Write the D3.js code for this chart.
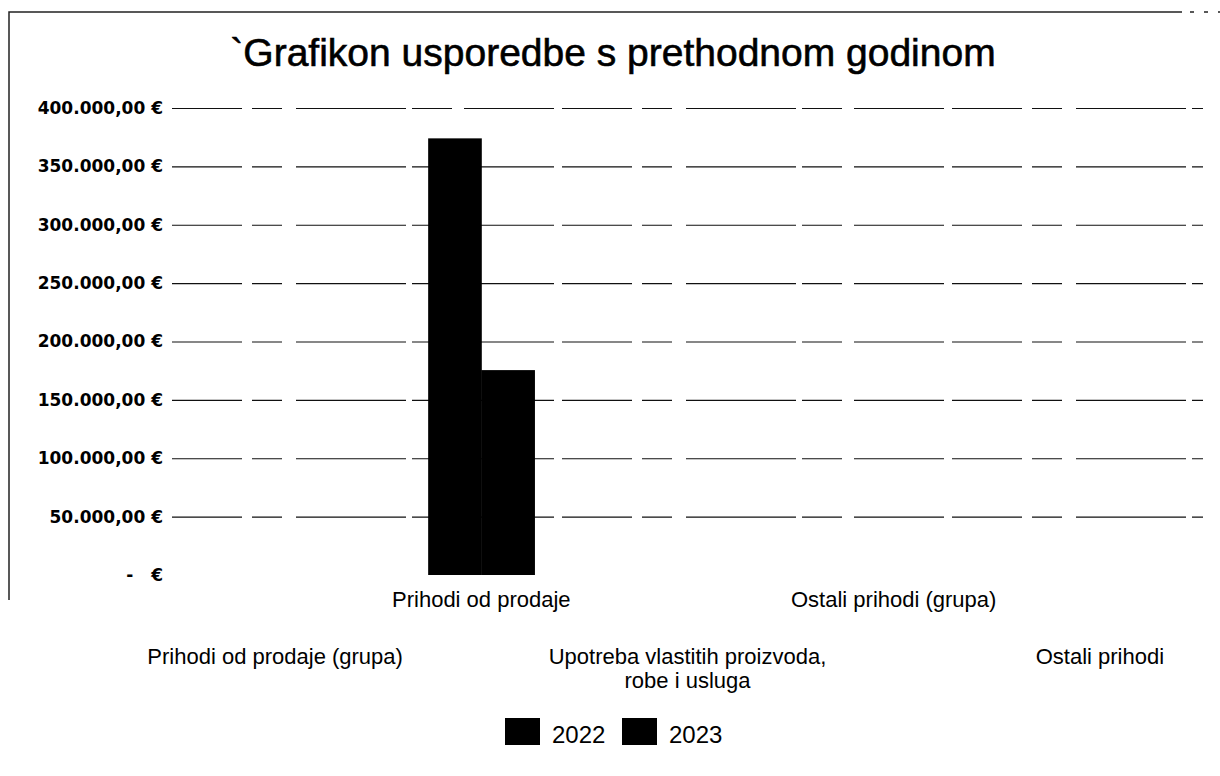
<!DOCTYPE html>
<html>
<head>
<meta charset="utf-8">
<script src="https://cdn.jsdelivr.net/npm/d3@7"></script>
<style>
  body { margin: 0; background: #fff; }
  svg { display: block; }
</style>
</head>
<body>
<svg id="chart"></svg>
<script>
// data
const categories = [
  'Prihodi od prodaje (grupa)',
  'Prihodi od prodaje',
  'Upotreba vlastitih proizvoda, robe i usluga',
  'Ostali prihodi (grupa)',
  'Ostali prihodi'
];
const years = ['2022', '2023'];
const values2022 = [null, 374000, null, null, null];
const values2023 = [null, 175500, null, null, null];
const yTicks = [0, 50000, 100000, 150000, 200000, 250000, 300000, 350000, 400000];
const title = '`Grafikon usporedbe s prethodnom godinom';

const W = 1220, H = 776;
const margin = { top: 108, right: 17, bottom: 201, left: 172 };
const width = W - margin.left - margin.right;
const height = H - margin.top - margin.bottom;

const svgRoot = d3.select('#chart')
  .attr('width', W)
  .attr('height', H);

// outer frame (only left and top edges survive in the scan)
svgRoot.append('path')
  .attr('d', 'M9,600 L9,12 L1182,12')
  .attr('fill', 'none')
  .attr('stroke', '#222')
  .attr('stroke-width', 1.5);
svgRoot.append('path')
  .attr('d', 'M1190,12 L1220,12')
  .attr('stroke', '#222')
  .attr('stroke-width', 1.5)
  .attr('stroke-dasharray', '4,10');

svgRoot.append('text')
  .attr('x', 613)
  .attr('y', 66)
  .attr('text-anchor', 'middle')
  .attr('stroke', '#000')
  .attr('stroke-width', 0.6)
  .style('font-family', '"Liberation Sans", Arial, sans-serif')
  .style('font-size', '39px')
  .text(title);

const svg = svgRoot.append('g')
  .attr('transform', `translate(${margin.left},${margin.top})`);

const locale = d3.formatLocale({ decimal: ',', thousands: '.', grouping: [3], currency: ['', ' €'] });
const euro = locale.format('$,.2f');

const x0 = d3.scaleBand()
  .domain(categories)
  .range([0, width])
  .padding(0);

const x1 = d3.scaleBand()
  .domain(years)
  .range([0, x0.bandwidth()])
  .paddingInner(0)
  .paddingOuter(0.94);

const y = d3.scaleLinear()
  .domain([0, 400000])
  .range([height, 0]);

// y axis + gridlines
const yAxis = svg.append('g')
  .call(d3.axisLeft(y)
    .tickValues(yTicks)
    .tickSize(-width)
    .tickPadding(9)
    .tickFormat(d => d === 0 ? '-\u00a0\u00a0\u00a0€' : euro(d)));
yAxis.select('.domain').remove();
yAxis.selectAll('.tick line')
  .attr('stroke', '#111')
  .attr('stroke-width', 1.2)
  .attr('stroke-dasharray', (d, i) => d === 0 ? '0,2000' : '70,10,30,14,110,6,40,12,90,8');
yAxis.selectAll('.tick text')
  .attr('fill', '#000')
  .style('font-family', '"DejaVu Sans", Verdana, sans-serif')
  .style('font-weight', 'bold')
  .style('font-size', '17px');

// x axis, labels staggered on two rows
const xAxis = svg.append('g')
  .attr('transform', `translate(0,${height})`)
  .call(d3.axisBottom(x0).tickSize(0));
xAxis.select('.domain').remove();
xAxis.selectAll('.tick text')
  .attr('fill', '#000')
  .style('font-family', '"Liberation Sans", Arial, sans-serif')
  .style('font-size', '22px')
  .each(function (d, i) {
    const t = d3.select(this);
    const lines = d.indexOf(', ') > 0 ? [d.split(', ')[0] + ',', d.split(', ')[1]] : [d];
    t.text(null).attr('y', i % 2 === 1 ? 32 : 89).attr('dy', null);
    lines.forEach((line, k) => {
      t.append('tspan')
        .attr('x', 0)
        .attr('dy', k === 0 ? 0 : 24)
        .text(line);
    });
  });

// bars
const series = [values2022, values2023];
const barData = [];
categories.forEach((c, i) => {
  years.forEach((yr, j) => {
    if (series[j][i] != null) barData.push({ cat: c, year: yr, value: series[j][i] });
  });
});

svg.selectAll('.bar')
  .data(barData)
  .enter().append('rect')
  .attr('class', 'bar')
  .attr('x', d => x0(d.cat) + x1(d.year))
  .attr('y', d => y(d.value))
  .attr('width', x1.bandwidth() + 0.5)
  .attr('height', d => height - y(d.value))
  .attr('fill', '#000');

// legend
const legend = svgRoot.append('g')
  .attr('transform', 'translate(505,718)');
const item = legend.selectAll('.item')
  .data(years)
  .enter().append('g')
  .attr('class', 'item')
  .attr('transform', (d, i) => `translate(${i * 117},0)`);
item.append('rect')
  .attr('width', 35)
  .attr('height', 27)
  .attr('fill', '#000');
item.append('text')
  .attr('x', 47)
  .attr('y', 25)
  .style('font-family', '"Liberation Sans", Arial, sans-serif')
  .style('font-size', '24px')
  .text(d => d);
</script>
</body>
</html>
